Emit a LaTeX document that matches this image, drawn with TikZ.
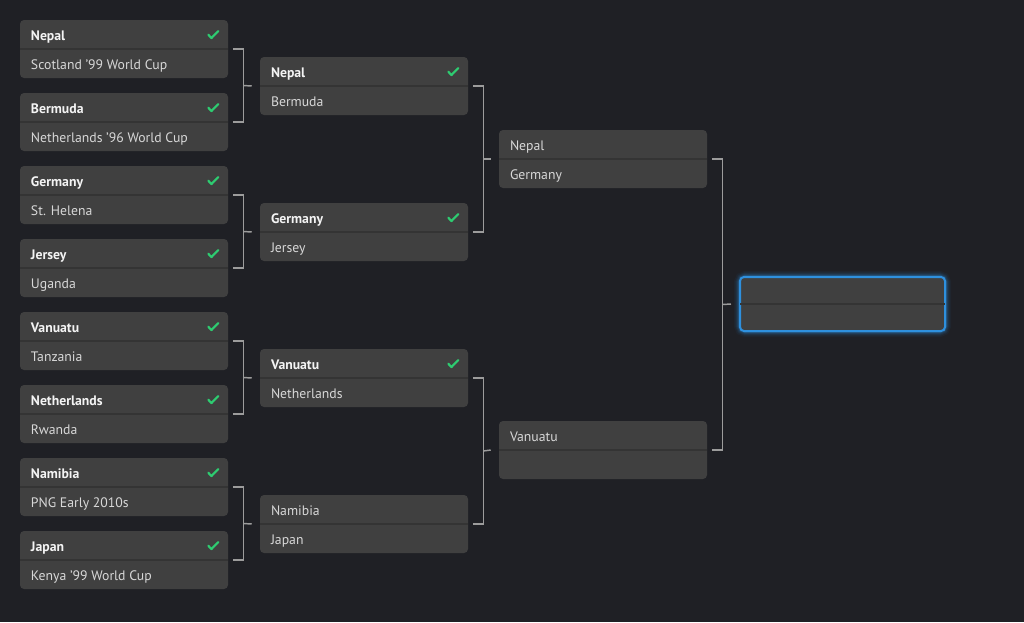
\documentclass[tikz,border=0pt]{standalone}
\usepackage{fontspec}
\setmainfont{PT Sans}
\usetikzlibrary{calc}
\definecolor{bg}{HTML}{1F2025}
\definecolor{boxfill}{HTML}{404040}
\definecolor{divcol}{HTML}{343434}
\definecolor{txtmain}{HTML}{F4F4F4}
\definecolor{txtsub}{HTML}{D8D8D8}
\definecolor{chk}{HTML}{2ECC71}
\definecolor{brk}{HTML}{9C9C9C}
\definecolor{glowcol}{HTML}{2E90DE}
\tikzset{
  matchnode/.style={draw=none, fill=boxfill, rounded corners=3pt, minimum width=156pt, minimum height=43.5pt, inner sep=0pt},
  divline/.style={draw=divcol, line width=0.8pt},
  wintext/.style={text=txtmain, font=\fontsize{10.3}{12}\selectfont\bfseries, inner sep=0pt},
  subtext/.style={text=txtsub, font=\fontsize{10.3}{12}\selectfont, inner sep=0pt},
  chkmark/.style={draw=chk, line width=1.6pt, line cap=round, line join=round},
  bracket/.style={draw=brk, line width=1.1pt},
}
\newcommand\matchbox[5]{%
  \node[matchnode] (#1) at (#2) {};
  \draw[divline] ([xshift=0.5pt]#1.west) -- ([xshift=-0.5pt]#1.east);
  \node[#5, anchor=base west] (#1-t) at ($(#1.north west)+(11,20.5)$) {#3};
  \node[subtext, anchor=base west] (#1-b) at ($(#1.south west)+(11,-9)$) {#4};
}
\newcommand\checkon[1]{%
  \draw[chkmark] ($(#1.north east)+(-20,15)$) -- ++(3.2,3.3) -- ++(6.8,-7);
}
\newcommand\joinpair[3]{%
  \draw[bracket] ($(#1.east)+(5,0)$) -- ++(10,0) |- ($(#2.east)+(5,0)$);
  \draw[bracket] ($($(#1.east)!0.5!(#2.east)$)+(15,0)$) -- ($(#3.west)+(-8,0)$);
}
\begin{document}
\begin{tikzpicture}[x=0.75pt,y=-0.75pt]
\fill[bg] (0,0) rectangle (1024,622);
\useasboundingbox (0,0) rectangle (1024,622);
% Round 1
\matchbox{a1}{124,49}{Nepal}{Scotland '99 World Cup}{wintext}\checkon{a1}
\matchbox{a2}{124,122}{Bermuda}{Netherlands '96 World Cup}{wintext}\checkon{a2}
\matchbox{a3}{124,195}{Germany}{St. Helena}{wintext}\checkon{a3}
\matchbox{a4}{124,268}{Jersey}{Uganda}{wintext}\checkon{a4}
\matchbox{a5}{124,341}{Vanuatu}{Tanzania}{wintext}\checkon{a5}
\matchbox{a6}{124,414}{Netherlands}{Rwanda}{wintext}\checkon{a6}
\matchbox{a7}{124,487}{Namibia}{PNG Early 2010s}{wintext}\checkon{a7}
\matchbox{a8}{124,560}{Japan}{Kenya '99 World Cup}{wintext}\checkon{a8}
% Round 2
\matchbox{b1}{364,86}{Nepal}{Bermuda}{wintext}\checkon{b1}
\matchbox{b2}{364,232}{Germany}{Jersey}{wintext}\checkon{b2}
\matchbox{b3}{364,378}{Vanuatu}{Netherlands}{wintext}\checkon{b3}
\matchbox{b4}{364,524}{Namibia}{Japan}{subtext}
% Round 3
\matchbox{c1}{603,159}{Nepal}{Germany}{subtext}
\matchbox{c2}{603,450}{Vanuatu}{}{subtext}
% Final with glow
\foreach \w/\o in {9/0.05,7/0.07,5.5/0.1,4/0.15,3/0.2}{
  \draw[glowcol, line width=\w pt, opacity=\o, rounded corners=4pt] (740,277) rectangle (945,331);
}
\node[matchnode, minimum width=153.75pt, minimum height=40.5pt, draw=glowcol, line width=1.5pt] (fin) at (842.5,304) {};
\draw[divline] ([xshift=1pt]fin.west) -- ([xshift=-1pt]fin.east);
% Brackets
\joinpair{a1}{a2}{b1}
\joinpair{a3}{a4}{b2}
\joinpair{a5}{a6}{b3}
\joinpair{a7}{a8}{b4}
\joinpair{b1}{b2}{c1}
\joinpair{b3}{b4}{c2}
\draw[bracket] ($(c1.east)+(5,0)$) -- ++(10,0) |- ($(c2.east)+(5,0)$);
\draw[bracket] ($($(c1.east)!0.5!(c2.east)$)+(15,0)$) -- ($(fin.west)+(-8,0)$);
\end{tikzpicture}
\end{document}
